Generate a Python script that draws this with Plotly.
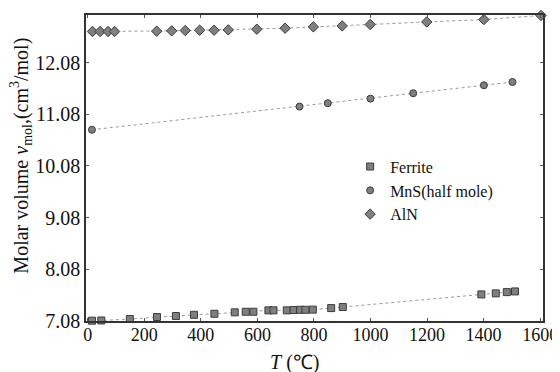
import plotly.graph_objects as go

ferrite_T = [15, 48, 149, 245, 312, 376, 448, 520, 559, 586, 639, 657, 704, 728, 751, 770, 796, 861, 902, 1392, 1443, 1482, 1511]
ferrite_v = [7.086, 7.09, 7.118, 7.157, 7.176, 7.20, 7.22, 7.248, 7.259, 7.259, 7.286, 7.286, 7.286, 7.292, 7.297, 7.297, 7.30, 7.33, 7.35, 7.594, 7.614, 7.639, 7.652]

mns_T = [15, 749, 849, 1000, 1151, 1401, 1502]
mns_v = [10.78, 11.228, 11.294, 11.382, 11.486, 11.641, 11.704]

aln_T = [17, 44, 72, 95, 244, 297, 345, 396, 447, 497, 598, 698, 798, 900, 999, 1199, 1401, 1603]
aln_v = [12.681, 12.681, 12.681, 12.681, 12.687, 12.693, 12.700, 12.706, 12.706, 12.712, 12.725, 12.745, 12.770, 12.789, 12.816, 12.866, 12.912, 12.99]

y_ticks = [7.08, 8.08, 9.08, 10.08, 11.08, 12.08]
x_ticks = [0, 200, 400, 600, 800, 1000, 1200, 1400, 1600]

FONT = "Liberation Serif"
LINE = dict(color="#9a9a9a", width=1, dash="dot")
MFILL = "#7f7f7f"
MEDGE = "#3c3c3c"

fig = go.Figure()
series = [
    ("Ferrite", ferrite_T, ferrite_v, "square", 7),
    ("MnS(half mole)", mns_T, mns_v, "circle", 7),
    ("AlN", aln_T, aln_v, "diamond", 8),
]
for name, xs, ys, sym, sz in series:
    fig.add_trace(go.Scatter(x=xs, y=ys, mode="lines", line=LINE,
                             showlegend=False, hoverinfo="skip", cliponaxis=False))
for name, xs, ys, sym, sz in series:
    fig.add_trace(go.Scatter(x=xs, y=ys, mode="markers", name=name,
                             marker=dict(symbol=sym, size=sz, color=MFILL,
                                         line=dict(color=MEDGE, width=1)),
                             cliponaxis=False))

axis_common = dict(showline=True, linecolor="#333333", linewidth=1.5, mirror="allticks",
                   ticks="inside", ticklen=3, tickcolor="#555555", showgrid=False,
                   zeroline=False, ticklabeloverflow="allow", automargin=False)

fig.update_xaxes(range=[-6, 1610], tickvals=x_ticks, ticklabelstandoff=-3,
                 tickfont=dict(family=FONT, size=18, color="#111"), **axis_common)
fig.update_yaxes(range=[7.08, 13.0], tickvals=y_ticks, ticktext=[f"{v:.2f}" for v in y_ticks],
                 tickfont=dict(family=FONT, size=20, color="#111"), **axis_common)

fig.add_annotation(text="<i>T</i> (℃)", xref="paper", yref="paper", x=0.457, y=-0.134,
                   xanchor="center", yanchor="middle", showarrow=False,
                   font=dict(family=FONT, size=20, color="#111"))
fig.add_annotation(text="Molar volume <i>v</i><sub>mol</sub>,(cm<sup>3</sup>/mol)",
                   xref="paper", yref="paper", x=-0.141, y=0.539, textangle=-90,
                   xanchor="center", yanchor="middle", showarrow=False,
                   font=dict(family=FONT, size=20, color="#111"))

# page body has an 8px margin, so the figure is sized to fit the 560x372 window
fig.update_layout(
    width=552, height=364,
    margin=dict(l=78, r=17, t=7, b=51, autoexpand=False),
    paper_bgcolor="white", plot_bgcolor="white",
    font=dict(family=FONT, size=20, color="#111"),
    legend=dict(x=0.578, y=0.56, xanchor="left", yanchor="top", bgcolor="rgba(0,0,0,0)",
                font=dict(family=FONT, size=16, color="#111"), tracegroupgap=0, itemwidth=30),
)

fig.write_html("out.html")
